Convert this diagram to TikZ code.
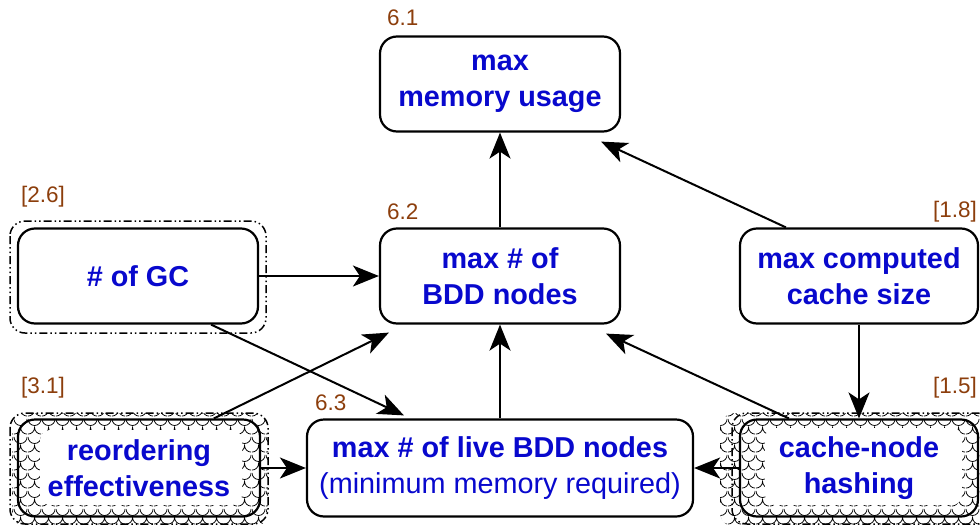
\documentclass[tikz,border=0pt]{standalone}
\usepackage{fontspec}
\setmainfont{Liberation Sans}
\usetikzlibrary{arrows.meta,patterns}

\definecolor{nodeblue}{RGB}{8,8,205}
\definecolor{tagbrown}{RGB}{140,62,12}

% overlapping fish-scale arcs used behind the hatched boxes
\pgfdeclarepatternformonly{fishscales}{\pgfpointorigin}{\pgfpoint{14pt}{18pt}}{\pgfpoint{14pt}{18pt}}{
  \pgfsetlinewidth{0.8pt}
  \pgfpathmoveto{\pgfpoint{0pt}{18pt}}
  \pgfpatharc{180}{360}{7pt}
  \pgfpathmoveto{\pgfpoint{0pt}{2pt}}
  \pgfpatharc{270}{360}{7pt}
  \pgfpatharc{180}{270}{7pt}
  \pgfusepath{stroke}
}

\begin{document}
\begin{tikzpicture}[x=1pt,y=-1pt,
  box/.style={draw,line width=2.2pt,rounded corners=17pt,minimum width=240pt,
    minimum height=95pt,align=center,inner sep=0pt,text=nodeblue,
    font=\fontsize{28.8}{35.5}\selectfont\bfseries},
  tag/.style={text=tagbrown,inner sep=0pt,font=\fontsize{22.5}{26}\selectfont},
  frame/.style={line width=1.5pt,rounded corners=15pt,
    dash pattern=on 8pt off 3pt on 1.5pt off 3pt on 1.5pt off 3pt},
  scales/.style={pattern=fishscales,rounded corners=15pt},
  link/.style={line width=2pt,-{Stealth[length=26pt,width=21pt,inset=7pt]}}]

\useasboundingbox (0,0) rectangle (980,525);

% hatched backgrounds with a clear area behind the text
\path[scales] (12,413) rectangle (268,527);
\path[fill=white,rounded corners=10pt] (40,430) rectangle (242,505);
\path[scales] (720,413) rectangle (992,527);
\path[fill=white,rounded corners=10pt] (765,428) rectangle (962,505);

% dash-dot-dot frames
\draw[frame] (10,221) rectangle (266,333);
\draw[frame] (10,413) rectangle (268,524);
\draw[frame] (732,413) rectangle (992,524);

% boxes
\node[box] (mem)   at (500,84)  {max\\memory usage};
\node[box] (bdd)   at (500,276) {max \# of\\BDD nodes};
\node[box] (gc)    at (138,276) {\# of GC};
\node[box,minimum width=238pt] (comp) at (859,276) {max computed\\cache size};
\node[box,minimum width=242pt,minimum height=97pt] (reord) at (139,468) {reordering\\effectiveness};
\node[box,minimum width=386pt,minimum height=97pt] (live) at (500,468)
  {max \# of live BDD nodes\\{\mdseries (minimum memory required)}};
\node[box,minimum width=238pt,minimum height=97pt] (hash) at (859,468) {cache-node\\hashing};

% tags
\node[tag,anchor=west] (t61) at (387,18)  {6.1};
\node[tag,anchor=west] (t62) at (387,212) {6.2};
\node[tag,anchor=west] (t63) at (315,403) {6.3};
\node[tag,anchor=west] (t26) at (21,197)  {[2.6]};
\node[tag,anchor=west] (t31) at (21,388)  {[3.1]};
\node[tag,anchor=east] (t18) at (977,212) {[1.8]};
\node[tag,anchor=east] (t15) at (977,388) {[1.5]};

% connectors
\draw[link] (bdd.north) -- (mem.south);
\draw[link] ([xshift=47pt]comp.north west) -- ([xshift=-20pt,yshift=-9pt]mem.south east);
\draw[link] (gc.east) -- (bdd.west);
\draw[link] ([xshift=-48pt]gc.south east) -- ([xshift=98pt,yshift=3pt]live.north west);
\draw[link] ([xshift=197pt]reord.north west) -- ([xshift=10pt,yshift=-8pt]bdd.south west);
\draw[link] (reord.east) -- (live.west);
\draw[link] (live.north) -- (bdd.south);
\draw[link] ([xshift=50pt]hash.north west) -- ([xshift=-15pt,yshift=-9pt]bdd.south east);
\draw[link] (comp.south) -- (hash.north);
\draw[link] (hash.west) -- (live.east);
\end{tikzpicture}
\end{document}
